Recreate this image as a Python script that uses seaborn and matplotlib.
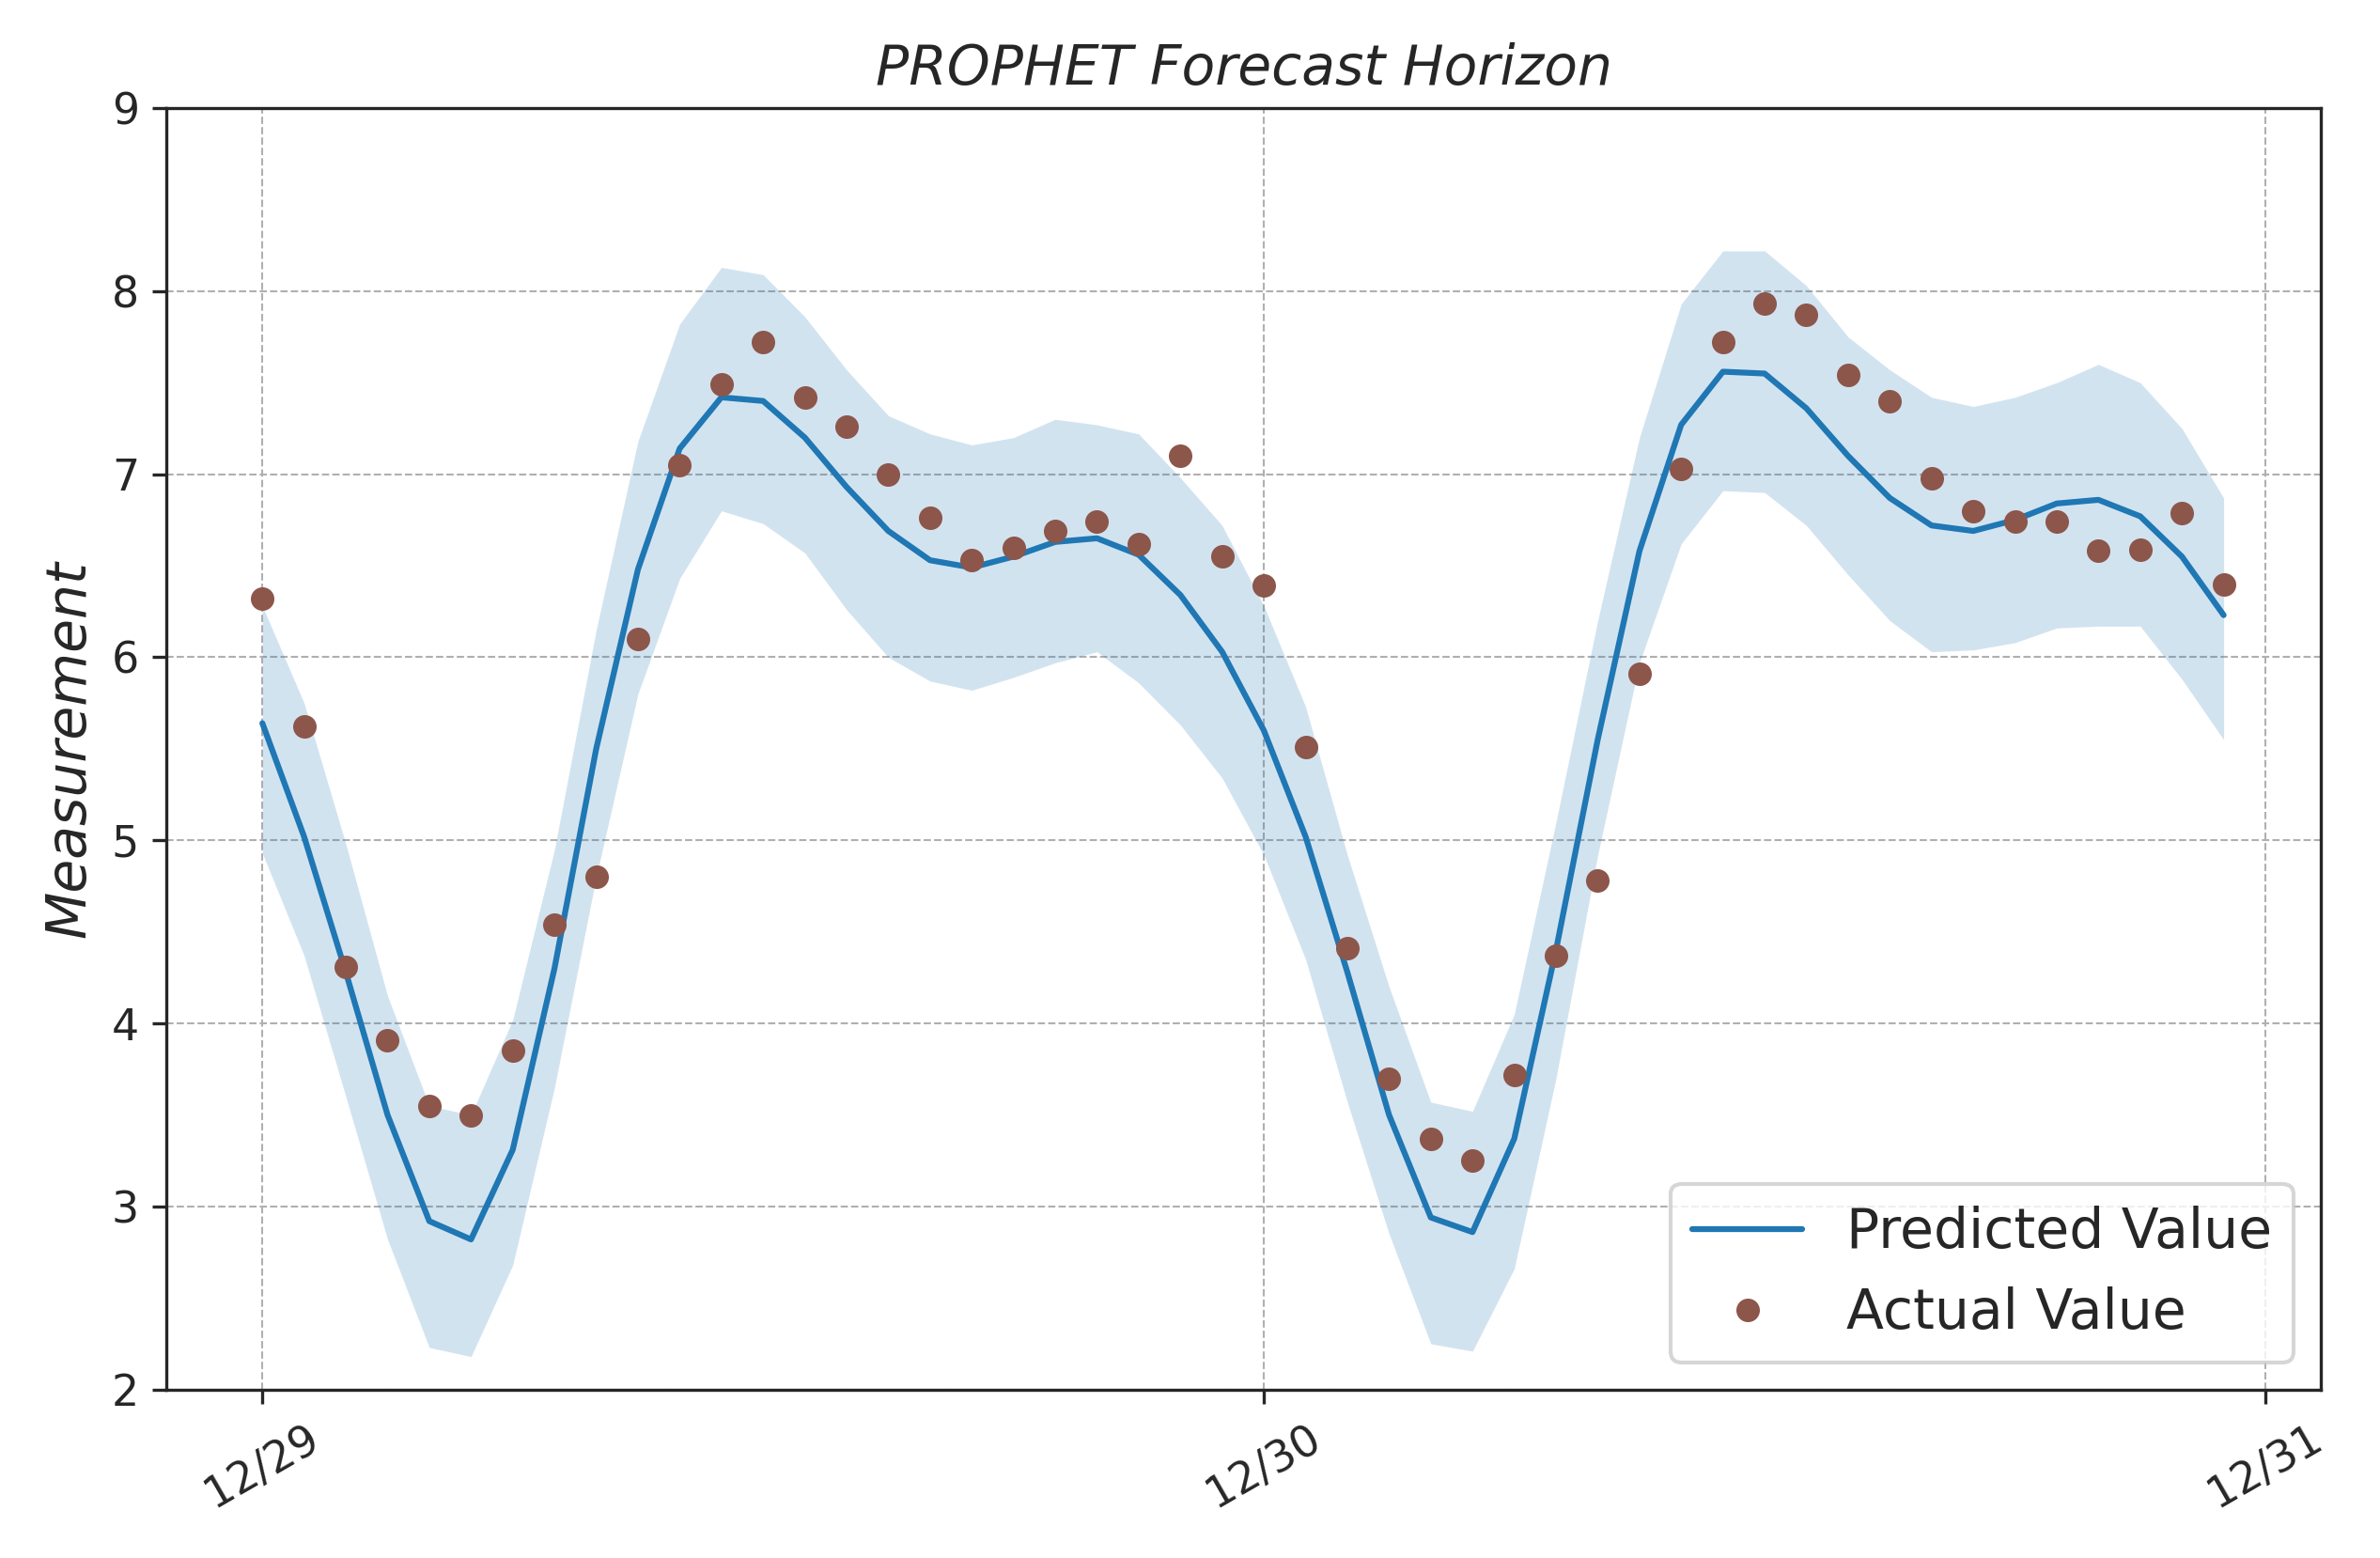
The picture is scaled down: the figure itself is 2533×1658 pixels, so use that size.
import numpy as np
import pandas as pd
import matplotlib
matplotlib.use("Agg")
import matplotlib.pyplot as plt
import matplotlib.dates as mdates
import seaborn as sns

times = pd.date_range("2023-12-29 00:00", periods=48, freq="h")
predicted = [5.64, 5.02, 4.28, 3.50, 2.92, 2.82, 3.31, 4.30, 5.50, 6.48, 7.14, 7.42,
             7.40, 7.20, 6.93, 6.69, 6.53, 6.49, 6.55, 6.63, 6.65, 6.56, 6.34, 6.03,
             5.60, 5.02, 4.28, 3.50, 2.94, 2.86, 3.37, 4.40, 5.55, 6.58, 7.27, 7.56,
             7.55, 7.36, 7.10, 6.87, 6.72, 6.69, 6.75, 6.84, 6.86, 6.77, 6.55, 6.23]
upper = [6.28, 5.75, 4.98, 4.15, 3.55, 3.50, 4.02, 4.95, 6.15, 7.18, 7.82, 8.13,
         8.09, 7.86, 7.57, 7.32, 7.22, 7.16, 7.20, 7.30, 7.27, 7.22, 6.98, 6.72,
         6.28, 5.73, 4.92, 4.20, 3.57, 3.52, 4.05, 5.10, 6.20, 7.20, 7.93, 8.22,
         8.22, 8.03, 7.75, 7.57, 7.42, 7.37, 7.42, 7.50, 7.60, 7.50, 7.25, 6.87]
lower = [4.93, 4.37, 3.60, 2.82, 2.23, 2.18, 2.68, 3.65, 4.80, 5.80, 6.43, 6.80,
         6.73, 6.57, 6.26, 6.00, 5.87, 5.82, 5.89, 5.97, 6.03, 5.86, 5.63, 5.34,
         4.92, 4.35, 3.57, 2.85, 2.25, 2.21, 2.66, 3.70, 4.92, 5.97, 6.62, 6.91,
         6.90, 6.72, 6.45, 6.20, 6.03, 6.04, 6.08, 6.16, 6.17, 6.17, 5.88, 5.55]
actual = [6.32, 5.62, 4.31, 3.91, 3.55, 3.50, 3.85, 4.54, 4.80, 6.10, 7.05, 7.49,
          7.72, 7.42, 7.26, 7.00, 6.76, 6.53, 6.60, 6.69, 6.74, 6.62, 7.10, 6.55,
          6.39, 5.51, 4.41, 3.70, 3.37, 3.25, 3.72, 4.37, 4.78, 5.91, 7.03, 7.72,
          7.93, 7.87, 7.54, 7.40, 6.98, 6.80, 6.74, 6.74, 6.58, 6.59, 6.79, 6.40]

df = pd.DataFrame({"time": times, "predicted": predicted, "upper": upper,
                   "lower": lower, "actual": actual})

sns.set_style("ticks")
plt.rcParams['font.family'] = ['DejaVu Sans']
fig, ax = plt.subplots(figsize=(2533 / 300, 1658 / 300), dpi=300)

ax.fill_between(df["time"], df["lower"], df["upper"], color="#1f77b4", alpha=0.2, lw=0)
sns.lineplot(data=df, x="time", y="predicted", ax=ax, color="#1f77b4", lw=1.5,
             label="Predicted Value")
ax.plot(df["time"], df["actual"], "o", color="#8c564b", markersize=5,
        label="Actual Value")

ax.set_ylim(2, 9)
ax.set_xlim(pd.Timestamp("2023-12-28 21:42"), pd.Timestamp("2023-12-31 01:20"))
ax.xaxis.set_major_locator(mdates.DayLocator())
ax.xaxis.set_major_formatter(mdates.DateFormatter("%m/%d"))
plt.setp(ax.get_xticklabels(), rotation=30)
ax.tick_params(labelsize=11)
ax.grid(True, linestyle="--", linewidth=0.5, color="#b0b0b0")
ax.set_title("PROPHET Forecast Horizon", fontsize=14, style="italic")
ax.set_ylabel("Measurement", fontsize=14, style="italic")
ax.set_xlabel("")
ax.legend(loc="lower right", fontsize=14)

plt.tight_layout()
plt.savefig("out.png", dpi=300)
plt.close()
